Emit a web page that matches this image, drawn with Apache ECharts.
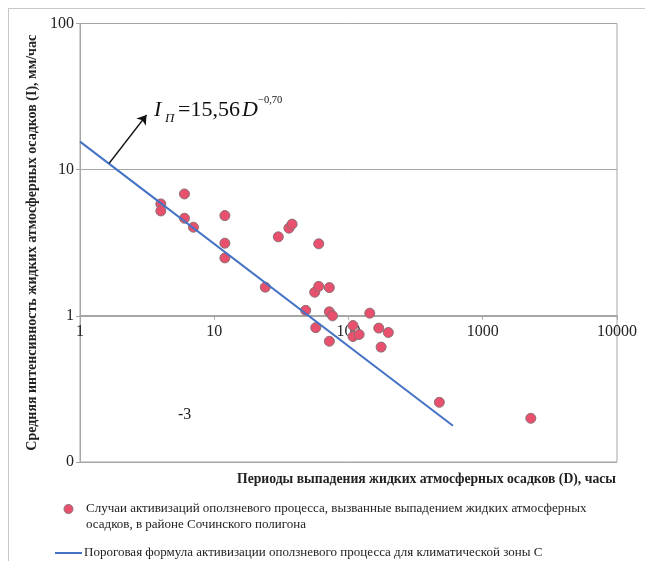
<!DOCTYPE html>
<html>
<head>
<meta charset="utf-8">
<script src="https://cdn.jsdelivr.net/npm/echarts@6/dist/echarts.min.js"></script>
<style>
html,body{margin:0;padding:0;background:#fff;}
#chart{width:645px;height:561px;}
</style>
</head>
<body>
<div id="chart"></div>
<script>
// Periods of rainfall D (hours) and mean intensity I (mm/h)
const pointsD = [4, 4, 6, 6, 7, 12, 12, 12, 24, 30, 36, 38, 60, 48, 56, 60, 72, 57, 72, 76, 72, 108, 108, 120, 144, 168, 175, 198, 475, 2280];
const pointsI = [5.83, 5.22, 6.82, 4.65, 4.04, 4.85, 3.14, 2.49, 1.57, 3.47, 3.98, 4.24, 3.11, 1.09, 1.45, 1.59, 1.56, 0.83, 1.065, 1.0, 0.67, 0.858, 0.722, 0.745, 1.043, 0.824, 0.611, 0.769, 0.256, 0.199];
// Threshold line endpoints (I = 15,56 D^-0,70)
const lineD = [1, 600];
const lineI = [15.56, 0.177];
// Annotation arrow (data coords)
const arrowD = [1.65, 3.13];
const arrowI = [11.06, 23.66];
// Tick labels
const yTickValues = [0.1, 1, 10, 100];
const yTickLabels = ['0', '1', '10', '100'];
const xTickValues = [1, 10, 100, 1000, 10000];
const xTickLabels = ['1', '10', '100', '1000', '10000'];

const yAxisTitle = 'Средняя интенсивность жидких атмосферных осадков (I), мм/час';
const xAxisTitle = 'Периоды выпадения жидких атмосферных осадков (D), часы';
const legendScatter1 = 'Случаи активизаций оползневого процесса, вызванные выпадением жидких атмосферных';
const legendScatter2 = 'осадков, в районе Сочинского полигона';
const legendLine = 'Пороговая формула активизации оползневого процесса для климатической зоны С';

const serif = '"Liberation Serif", "DejaVu Serif", serif';
const pointColor = '#e8506e';
const lineColor = '#4472c4';
const gridColor = '#a6a6a6';

function lookup(values, labels, v) {
  for (let i = 0; i < values.length; i++) {
    if (Math.abs(Math.log10(v) - Math.log10(values[i])) < 1e-6) return labels[i];
  }
  return '';
}

const chart = echarts.init(document.getElementById('chart'), null, {renderer: 'canvas'});
const option = {
  backgroundColor: '#fff',
  animation: false,
  grid: {left: 80, right: 28, top: 23.5, bottom: 99, show: true, borderColor: gridColor, borderWidth: 1},
  xAxis: {
    type: 'log', logBase: 10, min: 1, max: 10000,
    offset: -146.3,
    axisLine: {show: true, lineStyle: {color: gridColor, width: 1}},
    axisTick: {show: true, length: 4, lineStyle: {color: gridColor}},
    splitLine: {show: false},
    minorTick: {show: false},
    axisLabel: {
      margin: 8, fontFamily: serif, fontSize: 16, color: '#222',
      formatter: v => lookup(xTickValues, xTickLabels, v)
    }
  },
  yAxis: {
    type: 'log', logBase: 10, min: 0.1, max: 100,
    name: yAxisTitle, nameLocation: 'middle', nameRotate: 90, nameGap: 39,
    nameTextStyle: {fontFamily: serif, fontSize: 14, fontWeight: 'bold', color: '#222'},
    axisLine: {show: true, lineStyle: {color: gridColor, width: 1}},
    axisTick: {show: true, length: 4, lineStyle: {color: gridColor}},
    splitLine: {show: true, lineStyle: {color: gridColor, width: 1}},
    axisLabel: {
      margin: 6, fontFamily: serif, fontSize: 16, color: '#222',
      formatter: v => lookup(yTickValues, yTickLabels, v)
    }
  },
  series: [
    {
      type: 'scatter',
      data: pointsD.map((d, i) => [d, pointsI[i]]),
      symbol: 'circle', symbolSize: 10,
      itemStyle: {color: pointColor, borderColor: '#8a7075', borderWidth: 1, opacity: 1},
      z: 2
    },
    {
      type: 'line',
      data: lineD.map((d, i) => [d, lineI[i]]),
      showSymbol: false, symbol: 'none',
      lineStyle: {color: lineColor, width: 2},
      z: 3,
      markLine: {
        silent: true,
        symbol: ['none', 'arrow'], symbolSize: 9,
        label: {show: false},
        lineStyle: {color: '#111', width: 1.3, type: 'solid'},
        data: [[{coord: [arrowD[0], arrowI[0]]}, {coord: [arrowD[1], arrowI[1]]}]]
      }
    }
  ],
  graphic: [
    // outer frame (top & left)
    {type: 'line', shape: {x1: 8, y1: 8.5, x2: 645, y2: 8.5}, style: {stroke: '#c8c8c8', lineWidth: 1}},
    {type: 'line', shape: {x1: 8.5, y1: 8, x2: 8.5, y2: 561}, style: {stroke: '#c8c8c8', lineWidth: 1}},
    // equation
    {type: 'text', left: 154, top: 99, style: {text: 'I', font: 'italic 22px ' + serif, fill: '#111'}},
    {type: 'text', left: 165, top: 112, style: {text: 'П', font: 'italic 13px ' + serif, fill: '#111'}},
    {type: 'text', left: 178, top: 99, style: {text: '=15,56', font: '22px ' + serif, fill: '#111'}},
    {type: 'text', left: 242, top: 99, style: {text: 'D', font: 'italic 22px ' + serif, fill: '#111'}},
    {type: 'text', left: 258, top: 95, style: {text: '−0,70', font: '10.5px ' + serif, fill: '#111'}},
    // stray label
    {type: 'text', left: 178, top: 407, style: {text: '-3', font: '16px ' + serif, fill: '#222'}},
    // x axis title
    {type: 'text', right: 29, top: 472, style: {text: xAxisTitle, font: 'bold 13.7px ' + serif, fill: '#222'}},
    // legend
    {type: 'circle', shape: {cx: 68.5, cy: 509, r: 4.5}, style: {fill: pointColor, stroke: '#8a7075', lineWidth: 1}},
    {type: 'text', left: 86, top: 502, style: {text: legendScatter1, font: '13px ' + serif, fill: '#222'}},
    {type: 'text', left: 86, top: 518, style: {text: legendScatter2, font: '13px ' + serif, fill: '#222'}},
    {type: 'line', shape: {x1: 55, y1: 553, x2: 82, y2: 553}, style: {stroke: lineColor, lineWidth: 2}},
    {type: 'text', left: 84, top: 546, style: {text: legendLine, font: '13px ' + serif, fill: '#222'}}
  ]
};
chart.setOption(option);
</script>
</body>
</html>
